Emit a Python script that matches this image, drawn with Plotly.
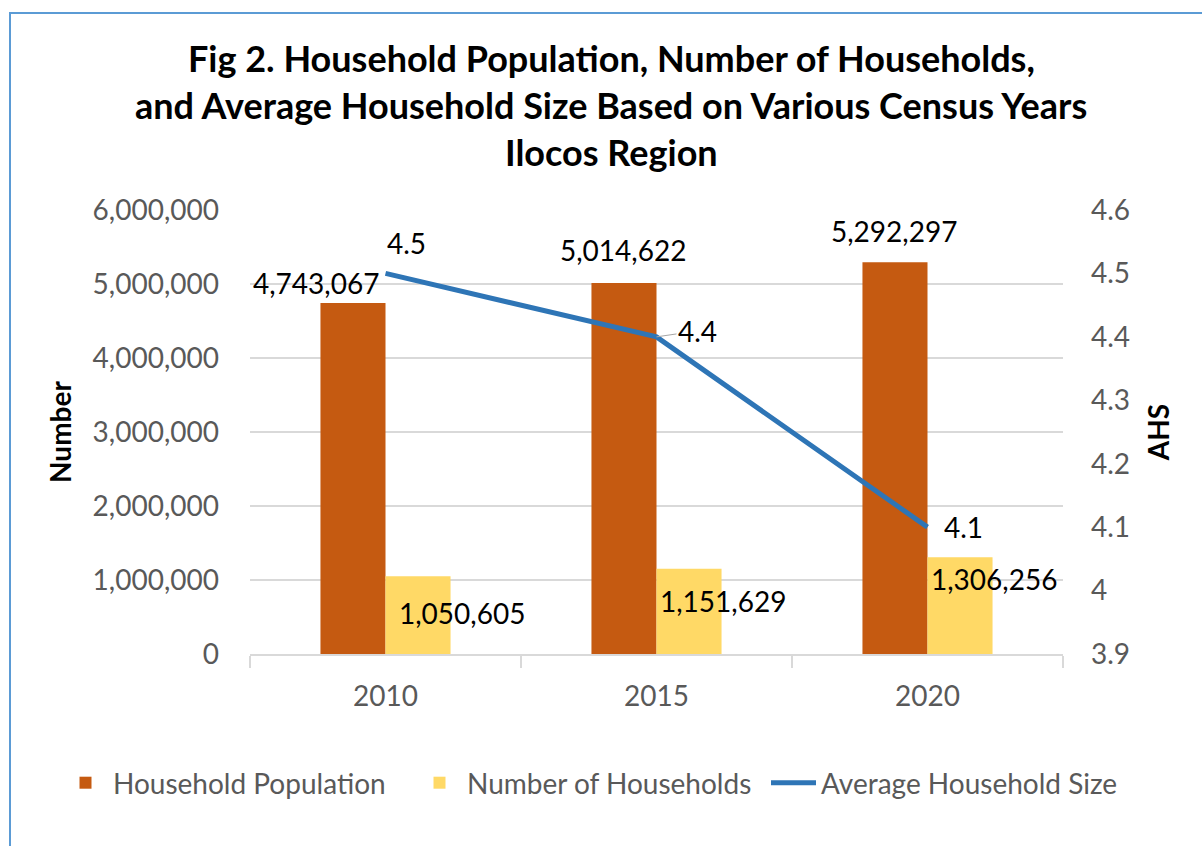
import plotly.graph_objects as go

# ---- data ----
years = ["2010", "2015", "2020"]
household_population = [4743067, 5014622, 5292297]
number_of_households = [1050605, 1151629, 1306256]
avg_household_size = [4.5, 4.4, 4.1]

left_ticks = [0, 1000000, 2000000, 3000000, 4000000, 5000000, 6000000]
right_ticks = [3.9, 4.0, 4.1, 4.2, 4.3, 4.4, 4.5, 4.6]

title_lines = [
    "Fig 2. Household Population, Number of Households,",
    "and Average Household Size Based on Various Census Years",
    "Ilocos Region",
]

# ---- styling ----
FONT = "Lato"
C_HP = "#C55A11"
C_NH = "#FFD966"
C_AHS = "#2E75B6"
GRID = "#D9D9D9"
TICK_COL = "#595959"

W, H = 1202, 846
ML, MR, MT, MB = 250, 139, 210, 192
PW, PH = W - ML - MR, H - MT - MB


def px_to_paper(px, py):
    return (px - ML) / PW, (H - MB - py) / PH


fig = go.Figure()
fig.add_trace(go.Bar(
    x=years, y=household_population, name="Household Population",
    marker=dict(color=C_HP, line=dict(width=0)), yaxis="y",
))
fig.add_trace(go.Bar(
    x=years, y=number_of_households, name="Number of Households",
    marker=dict(color=C_NH, line=dict(width=0)), yaxis="y",
))
fig.add_trace(go.Scatter(
    x=years, y=avg_household_size, name="Average Household Size",
    mode="lines", line=dict(color=C_AHS, width=5), yaxis="y2",
))

annotations = []
label_font = dict(family=FONT, size=28, color="#000000")

# category axes place annotations by category index
hp_shift = [(-70, 20), (-34, 33), (-34, 31)]
for i, (v, (dx, dy)) in enumerate(zip(household_population, hp_shift)):
    annotations.append(dict(x=i, y=v, xref="x", yref="y", text=f"{v:,}",
                            showarrow=False, xshift=dx, yshift=dy,
                            font=label_font, xanchor="center", yanchor="middle"))
nh_shift = [(76, -37), (66, -32), (66, -22)]
for i, (v, (dx, dy)) in enumerate(zip(number_of_households, nh_shift)):
    annotations.append(dict(x=i, y=v, xref="x", yref="y", text=f"{v:,}",
                            showarrow=False, xshift=dx, yshift=dy,
                            font=label_font, xanchor="center", yanchor="middle"))
ahs_shift = [(21, 30), (41, 6), (36, 0)]
for i, (v, (dx, dy)) in enumerate(zip(avg_household_size, ahs_shift)):
    if i == 1:
        annotations.append(dict(x=i, y=v, xref="x", yref="y2", text=f"{v}",
                                showarrow=True, arrowhead=0, arrowwidth=1,
                                arrowcolor="#A6A6A6", ax=dx, ay=-dy,
                                font=label_font, xanchor="center", yanchor="middle"))
    else:
        annotations.append(dict(x=i, y=v, xref="x", yref="y2", text=f"{v}",
                                showarrow=False, xshift=dx, yshift=dy,
                                font=label_font, xanchor="center", yanchor="middle"))

# Title lines
title_centers_y = [58, 105, 152]
for txt, py in zip(title_lines, title_centers_y):
    px_, py_ = px_to_paper(611, py)
    annotations.append(dict(x=px_, y=py_, xref="paper", yref="paper",
                            text=f"<b>{txt}</b>", showarrow=False,
                            xanchor="center", yanchor="middle",
                            font=dict(family=FONT, size=36, color="#000000")))

# Chart border (left and top edges visible)
bx0, by1 = px_to_paper(10, 13)
bx1, by0 = px_to_paper(1260, 900)
shapes = [dict(type="rect", xref="paper", yref="paper", x0=bx0, x1=bx1,
               y0=by0, y1=by1, line=dict(color="#5B9BD5", width=2),
               fillcolor="rgba(0,0,0,0)", layer="below")]

lgx, lgy = px_to_paper(58, 783)

fig.update_layout(
    width=W, height=H,
    margin=dict(l=ML, r=MR, t=MT, b=MB, pad=0),
    paper_bgcolor="white", plot_bgcolor="white",
    font=dict(family=FONT, size=28, color=TICK_COL),
    barmode="group", bargap=0.52, bargroupgap=0,
    showlegend=True,
    legend=dict(orientation="h", xref="paper", yref="paper",
                x=lgx, y=lgy, xanchor="left", yanchor="middle",
                font=dict(family=FONT, size=28, color=TICK_COL),
                itemwidth=45, entrywidth=294, entrywidthmode="pixels",
                traceorder="normal", bgcolor="rgba(0,0,0,0)"),
    xaxis=dict(type="category", range=[-0.5, 2.5], autorange=False,
               showgrid=False, showline=True, linecolor=GRID,
               linewidth=2, ticks="outside", tickson="boundaries", ticklen=12,
               tickcolor=GRID, tickwidth=2, ticklabelstandoff=16,
               tickfont=dict(family=FONT, size=28, color=TICK_COL)),
    yaxis=dict(range=[0, 6000000], autorange=False, tickvals=left_ticks, tickformat=",d",
               showgrid=True, gridcolor=GRID, gridwidth=2, zeroline=False,
               showline=False, ticks="", ticklabelstandoff=30,
               tickfont=dict(family=FONT, size=28, color=TICK_COL),
               title=dict(text="<b>Number</b>", standoff=12,
                          font=dict(family=FONT, size=28, color="#000000"))),
    yaxis2=dict(range=[3.9, 4.6], autorange=False, tickvals=right_ticks,
                overlaying="y", side="right",
                showgrid=False, zeroline=False, showline=False, ticks="",
                ticklabelstandoff=27,
                tickfont=dict(family=FONT, size=28, color=TICK_COL),
                title=dict(text="<b>AHS</b>", standoff=20,
                           font=dict(family=FONT, size=28, color="#000000"))),
    annotations=annotations,
    shapes=shapes,
)

fig.write_html("out.html", config={"displayModeBar": False},
               post_script="document.body.style.margin='0';")
